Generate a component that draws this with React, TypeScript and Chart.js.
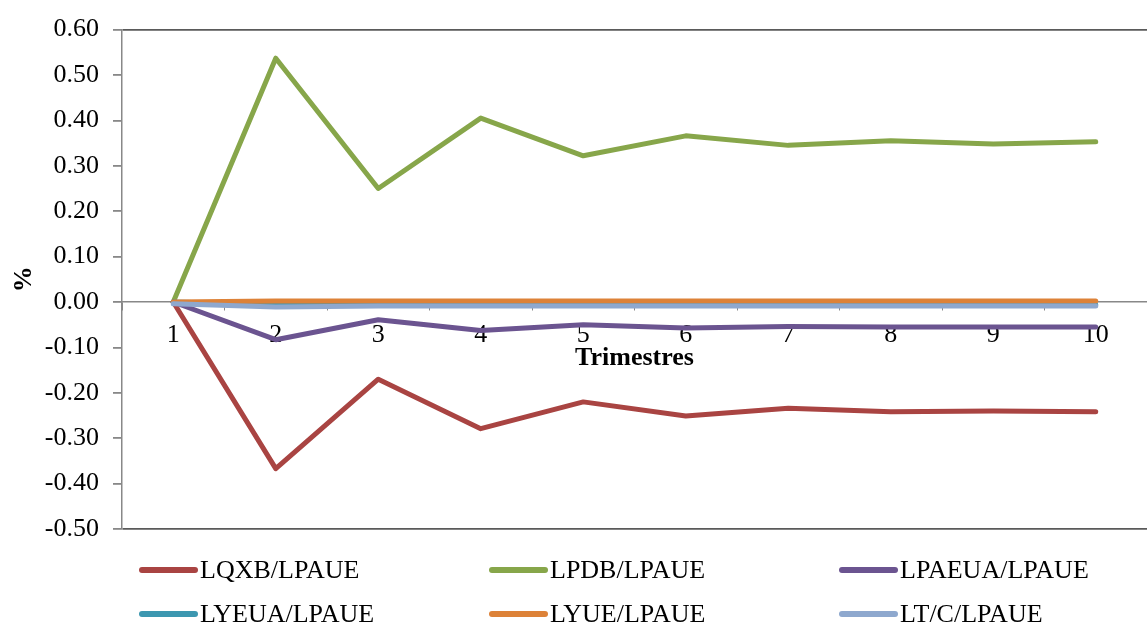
import React, { useEffect, useRef } from "react";
import { Chart, registerables } from "chart.js";

Chart.register(...registerables);

const categories = ["1", "2", "3", "4", "5", "6", "7", "8", "9", "10"];
const seriesNames = ["LQXB/LPAUE", "LPDB/LPAUE", "LPAEUA/LPAUE", "LYEUA/LPAUE", "LYUE/LPAUE", "LT/C/LPAUE"];
const lqxb = [0, -0.367, -0.17, -0.279, -0.22, -0.251, -0.234, -0.242, -0.24, -0.242];
const lpdb = [0, 0.537, 0.25, 0.405, 0.322, 0.366, 0.345, 0.355, 0.348, 0.353];
const lpaeua = [0, -0.083, -0.039, -0.063, -0.05, -0.057, -0.054, -0.055, -0.055, -0.055];
const lyeua = [0, -0.006, -0.006, -0.006, -0.006, -0.006, -0.006, -0.006, -0.006, -0.006];
const lyue = [0, 0.002, 0.002, 0.002, 0.002, 0.002, 0.002, 0.002, 0.002, 0.002];
const ltc = [-0.004, -0.011, -0.009, -0.009, -0.009, -0.009, -0.009, -0.009, -0.009, -0.009];
const colors = ["#A94442", "#87A64A", "#6B5490", "#3C97B0", "#DD8238", "#8EA8CE"];
const yTicksMin = -0.5;
const yTicksMax = 0.6;
const yStep = 0.1;

const FONT = "'Liberation Serif', 'Times New Roman', serif";

const legendPlugin = {
  id: "customLegend",
  afterDraw(chart: any) {
    const ctx = chart.ctx;
    ctx.save();
    chart.data.datasets.forEach((ds: any, i: number) => {
      const col = i % 3;
      const row = Math.floor(i / 3);
      const x0 = 142 + col * 350;
      const y = 570 + row * 44;
      ctx.strokeStyle = ds.borderColor;
      ctx.lineWidth = 6;
      ctx.lineCap = "round";
      ctx.beginPath();
      ctx.moveTo(x0, y);
      ctx.lineTo(x0 + 53, y);
      ctx.stroke();
      ctx.fillStyle = "#000";
      ctx.font = `26px ${FONT}`;
      ctx.textBaseline = "middle";
      ctx.textAlign = "left";
      ctx.fillText(ds.label, x0 + 58, y + 1);
    });
    ctx.restore();
  },
};

export default function App() {
  const ref = useRef<HTMLCanvasElement | null>(null);
  useEffect(() => {
    if (!ref.current) return;
    const series = [lqxb, lpdb, lpaeua, lyeua, lyue, ltc];
    const chart = new Chart(ref.current, {
      type: "line",
      data: {
        labels: categories,
        datasets: series.map((d, i) => ({
          label: seriesNames[i],
          data: d,
          borderColor: colors[i],
          backgroundColor: colors[i],
          borderWidth: 5,
          pointRadius: 0,
          tension: 0,
          borderCapStyle: "round",
          borderJoinStyle: "round",
          order: series.length - i,
        })),
      },
      options: {
        animation: false,
        responsive: true,
        maintainAspectRatio: false,
        layout: { padding: { top: 25, bottom: 97, left: 0, right: 0 } },
        plugins: { legend: { display: false }, tooltip: { enabled: false } },
        scales: {
          x: {
            type: "category",
            offset: true,
            position: { y: 0 } as any,
            grid: {
              display: true,
              drawOnChartArea: false,
              drawTicks: true,
              tickLength: 8,
              tickColor: "#888",
              offset: true,
            },
            border: { color: "#888", width: 1.5 },
            ticks: {
              color: "#000",
              font: { family: FONT, size: 26 },
              padding: 10,
              maxRotation: 0,
              autoSkip: false,
            },
            title: {
              display: true,
              text: "Trimestres",
              color: "#000",
              font: { family: FONT, size: 26, weight: "bold" },
              padding: { top: -19, bottom: 0 },
            },
          },
          y: {
            min: yTicksMin,
            max: yTicksMax,
            afterFit(scale: any) {
              scale.width = 122;
            },
            ticks: {
              stepSize: yStep,
              color: "#000",
              font: { family: FONT, size: 26 },
              padding: 14,
              callback: (v: any) => Number(v).toFixed(2),
            },
            grid: {
              drawTicks: true,
              tickLength: 9,
              tickColor: "#888",
              lineWidth: 1.8,
              color: (c: any) => {
                const v = c.tick ? c.tick.value : NaN;
                return Math.abs(v - yTicksMax) < 1e-9 || Math.abs(v - yTicksMin) < 1e-9 ? "#5a5a5a" : "rgba(0,0,0,0)";
              },
            },
            border: { color: "#888", width: 1.5 },
            title: {
              display: true,
              text: "%",
              color: "#000",
              font: { family: FONT, size: 26, weight: "bold" },
              padding: { top: 9, bottom: 0 },
            },
          },
        },
      },
      plugins: [legendPlugin],
    });
    return () => chart.destroy();
  }, []);
  return (
    <div style={{ position: "absolute", left: 0, top: 0, width: 1147, height: 626, background: "#fff" }}>
      <canvas ref={ref} />
    </div>
  );
}
